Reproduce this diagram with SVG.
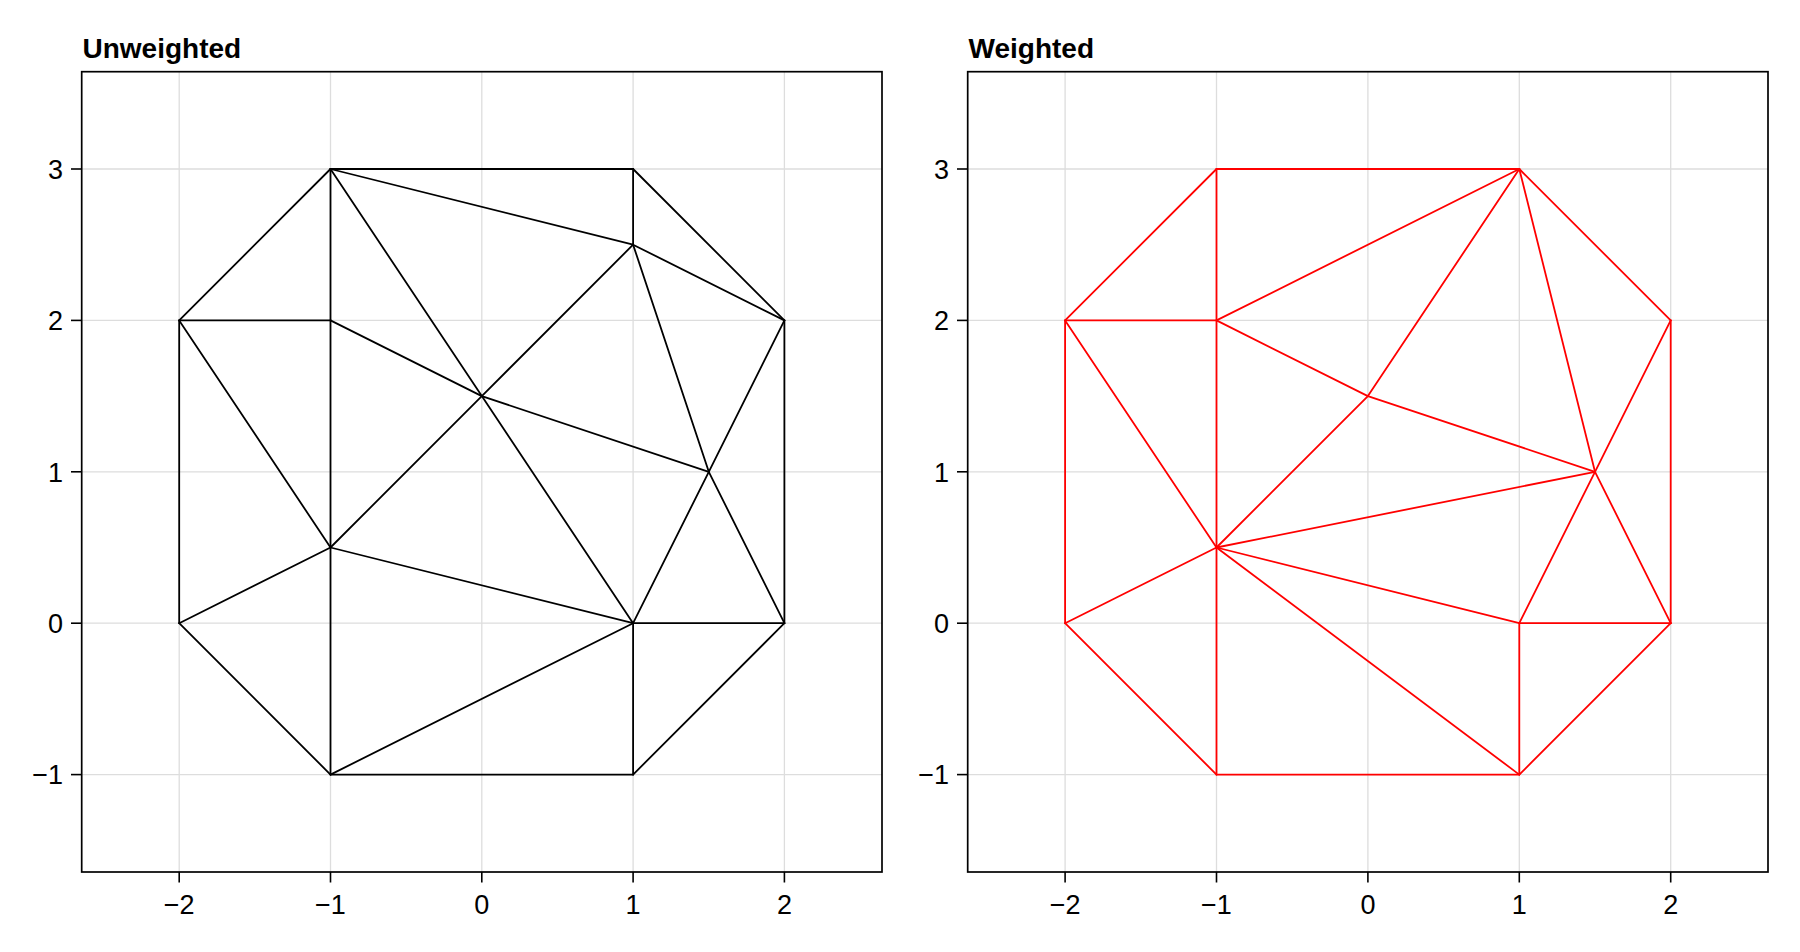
<svg xmlns="http://www.w3.org/2000/svg" width="1800" height="952" viewBox="0 0 1800 952">
<style>
.bg{fill:#ffffff}
.grid{stroke:#dddddd;stroke-width:1.3;fill:none}
.spine{stroke:#000;stroke-width:1.7;fill:none}
.tick{stroke:#000;stroke-width:1.6}
.lbl{font-family:"Liberation Sans","Noto Sans",Arial,sans-serif;font-size:27px;fill:#000}
.title{font-family:"Liberation Sans","Noto Sans",Arial,sans-serif;font-size:28px;font-weight:bold;fill:#000}
.ek line{stroke:#000;stroke-width:1.8;stroke-linecap:round}
.er line{stroke:#ff0000;stroke-width:1.8;stroke-linecap:round}
</style>
<rect class="bg" x="0" y="0" width="1800" height="952"/>

<g id="axis-unweighted">
  <text class="title" x="82.5" y="58">Unweighted</text>
  <g class="grid">
    <line x1="179.2" y1="71.7" x2="179.2" y2="872"/>
    <line x1="330.5" y1="71.7" x2="330.5" y2="872"/>
    <line x1="481.8" y1="71.7" x2="481.8" y2="872"/>
    <line x1="633.1" y1="71.7" x2="633.1" y2="872"/>
    <line x1="784.4" y1="71.7" x2="784.4" y2="872"/>
    <line x1="81.7" y1="169.0" x2="882" y2="169.0"/>
    <line x1="81.7" y1="320.4" x2="882" y2="320.4"/>
    <line x1="81.7" y1="471.8" x2="882" y2="471.8"/>
    <line x1="81.7" y1="623.2" x2="882" y2="623.2"/>
    <line x1="81.7" y1="774.6" x2="882" y2="774.6"/>
  </g>
  <rect class="spine" x="81.7" y="71.7" width="800.3" height="800.3"/>
  <g class="tick">
    <line x1="179.2" y1="872" x2="179.2" y2="882.5"/>
    <line x1="330.5" y1="872" x2="330.5" y2="882.5"/>
    <line x1="481.8" y1="872" x2="481.8" y2="882.5"/>
    <line x1="633.1" y1="872" x2="633.1" y2="882.5"/>
    <line x1="784.4" y1="872" x2="784.4" y2="882.5"/>
    <line x1="71" y1="169.0" x2="81.7" y2="169.0"/>
    <line x1="71" y1="320.4" x2="81.7" y2="320.4"/>
    <line x1="71" y1="471.8" x2="81.7" y2="471.8"/>
    <line x1="71" y1="623.2" x2="81.7" y2="623.2"/>
    <line x1="71" y1="774.6" x2="81.7" y2="774.6"/>
  </g>
  <g class="lbl" text-anchor="middle">
    <text x="179.2" y="914">−2</text>
    <text x="330.5" y="914">−1</text>
    <text x="481.8" y="914">0</text>
    <text x="633.1" y="914">1</text>
    <text x="784.4" y="914">2</text>
  </g>
  <g class="lbl" text-anchor="end">
    <text x="63" y="178.7">3</text>
    <text x="63" y="330.1">2</text>
    <text x="63" y="481.5">1</text>
    <text x="63" y="632.9">0</text>
    <text x="63" y="784.3">−1</text>
  </g>
</g>

<g id="axis-weighted">
  <text class="title" x="968.5" y="58">Weighted</text>
  <g class="grid">
    <line x1="1065.1" y1="71.7" x2="1065.1" y2="872"/>
    <line x1="1216.5" y1="71.7" x2="1216.5" y2="872"/>
    <line x1="1367.9" y1="71.7" x2="1367.9" y2="872"/>
    <line x1="1519.3" y1="71.7" x2="1519.3" y2="872"/>
    <line x1="1670.7" y1="71.7" x2="1670.7" y2="872"/>
    <line x1="967.7" y1="169.0" x2="1768" y2="169.0"/>
    <line x1="967.7" y1="320.4" x2="1768" y2="320.4"/>
    <line x1="967.7" y1="471.8" x2="1768" y2="471.8"/>
    <line x1="967.7" y1="623.2" x2="1768" y2="623.2"/>
    <line x1="967.7" y1="774.6" x2="1768" y2="774.6"/>
  </g>
  <rect class="spine" x="967.7" y="71.7" width="800.3" height="800.3"/>
  <g class="tick">
    <line x1="1065.1" y1="872" x2="1065.1" y2="882.5"/>
    <line x1="1216.5" y1="872" x2="1216.5" y2="882.5"/>
    <line x1="1367.9" y1="872" x2="1367.9" y2="882.5"/>
    <line x1="1519.3" y1="872" x2="1519.3" y2="882.5"/>
    <line x1="1670.7" y1="872" x2="1670.7" y2="882.5"/>
    <line x1="957" y1="169.0" x2="967.7" y2="169.0"/>
    <line x1="957" y1="320.4" x2="967.7" y2="320.4"/>
    <line x1="957" y1="471.8" x2="967.7" y2="471.8"/>
    <line x1="957" y1="623.2" x2="967.7" y2="623.2"/>
    <line x1="957" y1="774.6" x2="967.7" y2="774.6"/>
  </g>
  <g class="lbl" text-anchor="middle">
    <text x="1065.1" y="914">−2</text>
    <text x="1216.5" y="914">−1</text>
    <text x="1367.9" y="914">0</text>
    <text x="1519.3" y="914">1</text>
    <text x="1670.7" y="914">2</text>
  </g>
  <g class="lbl" text-anchor="end">
    <text x="949" y="178.7">3</text>
    <text x="949" y="330.1">2</text>
    <text x="949" y="481.5">1</text>
    <text x="949" y="632.9">0</text>
    <text x="949" y="784.3">−1</text>
  </g>
</g>

<g id="connectors">
  <g id="edges-unweighted" class="ek">
    <line x1="330.5" y1="169.0" x2="633.1" y2="169.0"/>
    <line x1="633.1" y1="169.0" x2="633.1" y2="244.7"/>
    <line x1="633.1" y1="169.0" x2="784.4" y2="320.4"/>
    <line x1="330.5" y1="169.0" x2="633.1" y2="244.7"/>
    <line x1="330.5" y1="169.0" x2="179.2" y2="320.4"/>
    <line x1="330.5" y1="169.0" x2="330.5" y2="320.4"/>
    <line x1="330.5" y1="169.0" x2="481.8" y2="396.1"/>
    <line x1="179.2" y1="320.4" x2="330.5" y2="320.4"/>
    <line x1="179.2" y1="320.4" x2="179.2" y2="623.2"/>
    <line x1="179.2" y1="320.4" x2="330.5" y2="547.5"/>
    <line x1="330.5" y1="320.4" x2="481.8" y2="396.1"/>
    <line x1="330.5" y1="320.4" x2="330.5" y2="547.5"/>
    <line x1="633.1" y1="244.7" x2="784.4" y2="320.4"/>
    <line x1="633.1" y1="244.7" x2="481.8" y2="396.1"/>
    <line x1="633.1" y1="244.7" x2="708.8" y2="471.8"/>
    <line x1="784.4" y1="320.4" x2="708.8" y2="471.8"/>
    <line x1="784.4" y1="320.4" x2="784.4" y2="623.2"/>
    <line x1="481.8" y1="396.1" x2="330.5" y2="547.5"/>
    <line x1="481.8" y1="396.1" x2="708.8" y2="471.8"/>
    <line x1="481.8" y1="396.1" x2="633.1" y2="623.2"/>
    <line x1="708.8" y1="471.8" x2="633.1" y2="623.2"/>
    <line x1="708.8" y1="471.8" x2="784.4" y2="623.2"/>
    <line x1="330.5" y1="547.5" x2="179.2" y2="623.2"/>
    <line x1="330.5" y1="547.5" x2="633.1" y2="623.2"/>
    <line x1="330.5" y1="547.5" x2="330.5" y2="774.6"/>
    <line x1="179.2" y1="623.2" x2="330.5" y2="774.6"/>
    <line x1="633.1" y1="623.2" x2="784.4" y2="623.2"/>
    <line x1="633.1" y1="623.2" x2="330.5" y2="774.6"/>
    <line x1="633.1" y1="623.2" x2="633.1" y2="774.6"/>
    <line x1="784.4" y1="623.2" x2="633.1" y2="774.6"/>
    <line x1="330.5" y1="774.6" x2="633.1" y2="774.6"/>
  </g>
  <g id="edges-weighted" class="er">
    <line x1="1216.5" y1="169.0" x2="1519.3" y2="169.0"/>
    <line x1="1216.5" y1="169.0" x2="1065.1" y2="320.4"/>
    <line x1="1216.5" y1="169.0" x2="1216.5" y2="320.4"/>
    <line x1="1519.3" y1="169.0" x2="1670.7" y2="320.4"/>
    <line x1="1519.3" y1="169.0" x2="1216.5" y2="320.4"/>
    <line x1="1519.3" y1="169.0" x2="1367.9" y2="396.1"/>
    <line x1="1519.3" y1="169.0" x2="1595.0" y2="471.8"/>
    <line x1="1670.7" y1="320.4" x2="1670.7" y2="623.2"/>
    <line x1="1670.7" y1="320.4" x2="1595.0" y2="471.8"/>
    <line x1="1065.1" y1="320.4" x2="1216.5" y2="320.4"/>
    <line x1="1065.1" y1="320.4" x2="1065.1" y2="623.2"/>
    <line x1="1065.1" y1="320.4" x2="1216.5" y2="547.5"/>
    <line x1="1216.5" y1="320.4" x2="1367.9" y2="396.1"/>
    <line x1="1216.5" y1="320.4" x2="1216.5" y2="547.5"/>
    <line x1="1367.9" y1="396.1" x2="1595.0" y2="471.8"/>
    <line x1="1367.9" y1="396.1" x2="1216.5" y2="547.5"/>
    <line x1="1595.0" y1="471.8" x2="1216.5" y2="547.5"/>
    <line x1="1595.0" y1="471.8" x2="1519.3" y2="623.2"/>
    <line x1="1595.0" y1="471.8" x2="1670.7" y2="623.2"/>
    <line x1="1216.5" y1="547.5" x2="1065.1" y2="623.2"/>
    <line x1="1216.5" y1="547.5" x2="1519.3" y2="623.2"/>
    <line x1="1216.5" y1="547.5" x2="1519.3" y2="774.6"/>
    <line x1="1216.5" y1="547.5" x2="1216.5" y2="774.6"/>
    <line x1="1065.1" y1="623.2" x2="1216.5" y2="774.6"/>
    <line x1="1519.3" y1="623.2" x2="1670.7" y2="623.2"/>
    <line x1="1519.3" y1="623.2" x2="1519.3" y2="774.6"/>
    <line x1="1670.7" y1="623.2" x2="1519.3" y2="774.6"/>
    <line x1="1216.5" y1="774.6" x2="1519.3" y2="774.6"/>
  </g>
</g>
</svg>
